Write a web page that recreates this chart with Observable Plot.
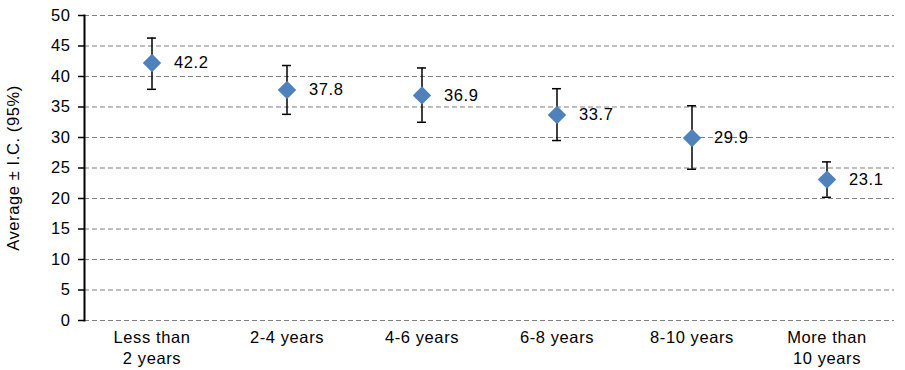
<!DOCTYPE html>
<html>
<head>
<meta charset="utf-8">
<script src="https://cdn.jsdelivr.net/npm/d3@7"></script>
<script src="https://cdn.jsdelivr.net/npm/@observablehq/plot@0.6"></script>
<style>
  body { margin: 0; background: #fff; }
  #chart { font-family: "Liberation Sans", Arial, sans-serif; }
  #chart svg text { letter-spacing: 0.6px; }
</style>
</head>
<body>
<div id="chart"></div>
<script>
const categories = ["Less than 2 years", "2-4 years", "4-6 years", "6-8 years", "8-10 years", "More than 10 years"];
const tickLabels = ["Less than\n2 years", "2-4 years", "4-6 years", "6-8 years", "8-10 years", "More than\n10 years"];
const means = [42.2, 37.8, 36.9, 33.7, 29.9, 23.1];
const lower = [37.9, 33.8, 32.5, 29.5, 24.8, 20.2];
const upper = [46.3, 41.8, 41.4, 38.0, 35.2, 26.0];
const yTicks = [0, 5, 10, 15, 20, 25, 30, 35, 40, 45, 50];

const data = categories.map((c, i) => ({cat: c, mean: means[i], lo: lower[i], hi: upper[i]}));
const labelOf = new Map(categories.map((c, i) => [c, tickLabels[i]]));

const chart = Plot.plot({
  width: 905,
  height: 370,
  marginLeft: 84,
  marginRight: 11,
  marginTop: 15,
  marginBottom: 50,
  style: {fontFamily: "Liberation Sans, Arial, sans-serif", fontSize: "16px", color: "#000", background: "#fff"},
  x: {domain: categories, padding: 0},
  y: {domain: [0, 50]},
  marks: [
    Plot.gridY(yTicks, {stroke: "#808080", strokeOpacity: 1, strokeWidth: 1.2, strokeDasharray: "5,3"}),
    Plot.axisY(yTicks, {
      tickSize: 6, tickPadding: 8, fontSize: 16.5, stroke: "#000", strokeWidth: 1.5,
      label: "Average ± I.C. (95%)", labelAnchor: "center", labelArrow: "none", labelOffset: 77
    }),
    Plot.axisX({tickSize: 0, tickPadding: 8, fontSize: 16.5, lineHeight: 1.25, tickFormat: d => labelOf.get(d), label: null}),
    Plot.ruleX(data, {x: "cat", y1: "lo", y2: "hi", stroke: "#000", strokeWidth: 1.5}),
    Plot.tickY(data, {x: "cat", y: "lo", stroke: "#000", strokeWidth: 1.5, insetLeft: 63, insetRight: 63}),
    Plot.tickY(data, {x: "cat", y: "hi", stroke: "#000", strokeWidth: 1.5, insetLeft: 63, insetRight: 63}),
    Plot.dot(data, {x: "cat", y: "mean", symbol: "diamond2", r: 8.3, fill: "#4f81bd", stroke: "none"}),
    Plot.text(data, {x: "cat", y: "mean", text: d => d.mean.toFixed(1), dx: 22, textAnchor: "start", fontSize: 16.5, fill: "#000"}),
    Plot.frame({anchor: "left", stroke: "#000", strokeWidth: 2})
  ]
});
document.getElementById("chart").appendChild(chart);
</script>
</body>
</html>
